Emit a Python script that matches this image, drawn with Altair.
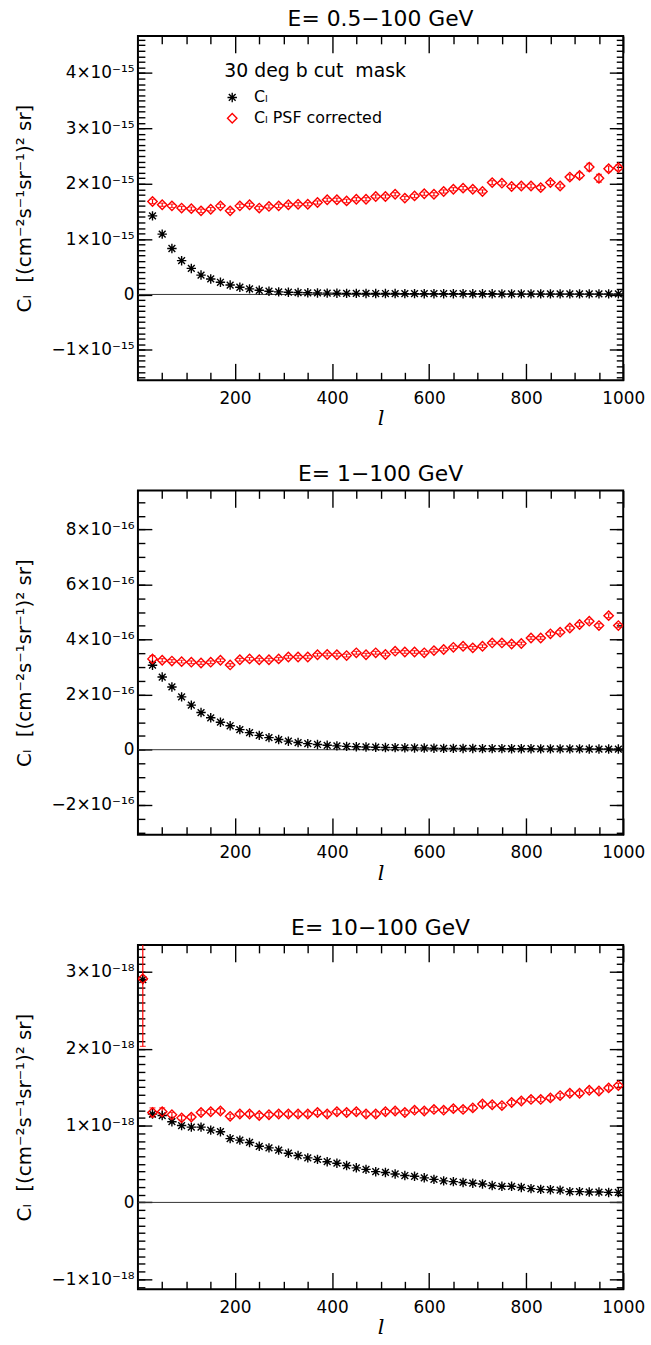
import altair as alt
import pandas as pd

# multipole bin centres
ELL = [30, 50, 70, 90, 110, 130, 150, 170, 190, 210, 230, 250, 270, 290, 310, 330,
       350, 370, 390, 410, 430, 450, 470, 490, 510, 530, 550, 570, 590, 610, 630,
       650, 670, 690, 710, 730, 750, 770, 790, 810, 830, 850, 870, 890, 910, 930,
       950, 970, 990]
ELL3 = [10] + ELL

SERIES = ["Cₗ", "Cₗ PSF corrected"]

# ---- panel 1: E = 0.5-100 GeV (units of 1e-15)
CL_1 = [1.42, 1.09, 0.83, 0.61, 0.47, 0.35, 0.28, 0.22, 0.17, 0.13,
        0.10, 0.075, 0.058, 0.047, 0.04, 0.034, 0.03, 0.027, 0.024, 0.022,
        0.02, 0.019, 0.018, 0.017, 0.017, 0.016, 0.015, 0.015, 0.014, 0.014,
        0.013, 0.013, 0.013, 0.012, 0.012, 0.012, 0.011, 0.011, 0.011, 0.011,
        0.010, 0.010, 0.010, 0.010, 0.010, 0.010, 0.010, 0.010, 0.010]
PSF_1 = [1.68, 1.62, 1.60, 1.56, 1.55, 1.51, 1.54, 1.60, 1.51, 1.60,
         1.62, 1.56, 1.59, 1.60, 1.62, 1.63, 1.63, 1.66, 1.71, 1.71,
         1.69, 1.72, 1.72, 1.77, 1.77, 1.81, 1.74, 1.78, 1.82, 1.81,
         1.86, 1.90, 1.92, 1.90, 1.86, 2.02, 2.01, 1.95, 1.96, 1.96,
         1.93, 2.02, 1.96, 2.12, 2.15, 2.30, 2.10, 2.27, 2.29]
ERR_1 = [0.04, 0.03, 0.03, 0.03, 0.03, 0.03, 0.03, 0.03, 0.03, 0.03,
         0.03, 0.03, 0.03, 0.03, 0.03, 0.03, 0.03, 0.03, 0.03, 0.03,
         0.03, 0.03, 0.03, 0.03, 0.03, 0.03, 0.03, 0.03, 0.03, 0.03,
         0.03, 0.03, 0.03, 0.03, 0.03, 0.035, 0.035, 0.035, 0.035, 0.035,
         0.035, 0.035, 0.035, 0.045, 0.05, 0.07, 0.07, 0.05, 0.05]

# ---- panel 2: E = 1-100 GeV (units of 1e-16)
CL_2 = [3.07, 2.64, 2.28, 1.92, 1.62, 1.35, 1.16, 1.00, 0.87, 0.73,
        0.62, 0.52, 0.44, 0.37, 0.31, 0.26, 0.22, 0.19, 0.16, 0.14,
        0.12, 0.11, 0.10, 0.09, 0.08, 0.075, 0.07, 0.065, 0.06, 0.055,
        0.05, 0.05, 0.045, 0.045, 0.04, 0.04, 0.04, 0.035, 0.035, 0.035,
        0.03, 0.03, 0.03, 0.03, 0.03, 0.025, 0.025, 0.025, 0.025]
PSF_2 = [3.30, 3.25, 3.22, 3.20, 3.18, 3.15, 3.18, 3.25, 3.08, 3.27,
         3.30, 3.27, 3.27, 3.30, 3.37, 3.37, 3.37, 3.45, 3.46, 3.45,
         3.42, 3.52, 3.45, 3.52, 3.46, 3.58, 3.55, 3.55, 3.52, 3.60,
         3.64, 3.72, 3.76, 3.70, 3.76, 3.88, 3.88, 3.84, 3.86, 4.06,
         4.06, 4.21, 4.27, 4.42, 4.55, 4.67, 4.51, 4.87, 4.51]
ERR_2 = [0.12, 0.06, 0.05, 0.05, 0.05, 0.05, 0.05, 0.05, 0.05, 0.05,
         0.05, 0.05, 0.05, 0.05, 0.05, 0.05, 0.05, 0.05, 0.05, 0.05,
         0.05, 0.05, 0.05, 0.05, 0.05, 0.05, 0.05, 0.05, 0.05, 0.05,
         0.05, 0.05, 0.05, 0.05, 0.05, 0.05, 0.05, 0.05, 0.05, 0.05,
         0.05, 0.07, 0.07, 0.07, 0.07, 0.07, 0.07, 0.07, 0.07]

# ---- panel 3: E = 10-100 GeV (units of 1e-18), includes l = 10
CL_3 = [2.90, 1.15, 1.13, 1.05, 1.00, 0.98, 0.98, 0.94, 0.92, 0.83, 0.81,
        0.78, 0.73, 0.71, 0.68, 0.64, 0.61, 0.58, 0.56, 0.53, 0.51,
        0.48, 0.45, 0.43, 0.40, 0.39, 0.37, 0.35, 0.34, 0.32, 0.30,
        0.28, 0.27, 0.26, 0.25, 0.24, 0.22, 0.21, 0.21, 0.195, 0.18,
        0.17, 0.165, 0.16, 0.14, 0.14, 0.135, 0.135, 0.13, 0.13]
PSF_3 = [2.91, 1.17, 1.18, 1.14, 1.10, 1.11, 1.17, 1.18, 1.19, 1.12, 1.15,
         1.15, 1.13, 1.14, 1.15, 1.15, 1.15, 1.15, 1.17, 1.15, 1.18,
         1.17, 1.18, 1.15, 1.15, 1.18, 1.19, 1.17, 1.20, 1.19, 1.21,
         1.20, 1.22, 1.21, 1.23, 1.28, 1.27, 1.26, 1.30, 1.32, 1.34,
         1.34, 1.36, 1.39, 1.42, 1.42, 1.46, 1.45, 1.49, 1.52]
ERR_3 = [0.88, 0.06, 0.05, 0.03, 0.03, 0.03, 0.03, 0.03, 0.03, 0.03, 0.03,
         0.03, 0.03, 0.03, 0.03, 0.03, 0.03, 0.03, 0.03, 0.03, 0.03,
         0.03, 0.03, 0.03, 0.03, 0.03, 0.03, 0.03, 0.03, 0.03, 0.03,
         0.03, 0.03, 0.03, 0.03, 0.03, 0.03, 0.03, 0.03, 0.03, 0.03,
         0.03, 0.03, 0.03, 0.03, 0.03, 0.03, 0.03, 0.03, 0.03]

X_MAJOR = [200, 400, 600, 800, 1000]
X_MINOR = [50, 100, 150, 250, 300, 350, 450, 500, 550, 650, 700, 750, 850, 900, 950]

Y1_MAJOR = [-1, 0, 1, 2, 3, 4]
Y1_MINOR = [round(-1.5 + 0.1 * i, 1) for i in range(62)]
Y2_MAJOR = [-2, 0, 2, 4, 6, 8]
Y2_MINOR = [round(-3 + 0.5 * i, 1) for i in range(25)]
Y3_MAJOR = [-1, 0, 1, 2, 3]
Y3_MINOR = [round(-1.1 + 0.1 * i, 1) for i in range(45)]

STAR = "M-1,0L1,0M0,-1L0,1M-0.72,-0.72L0.72,0.72M-0.72,0.72L0.72,-0.72"
YTITLE = "Cₗ\u00a0\u00a0[(cm⁻²s⁻¹sr⁻¹)² sr]"
LEGTITLE = "30 deg b cut\u00a0\u00a0mask"
FONT = "DejaVu Sans"


def ax(orient, values, size, **kw):
    return alt.Axis(orient=orient, values=values, tickSize=size, offset=-size,
                    domain=False, grid=False, ticks=True, tickColor="black",
                    tickWidth=1.4, **kw)


def panel(ells, cl, psf, err, title, ydom, ymaj, ymin, sup):
    n = len(ells)
    pts = pd.DataFrame({"l": ells + ells, "v": cl + psf,
                        "s": [SERIES[0]] * n + [SERIES[1]] * n})
    bars = pd.DataFrame({"l": ells,
                         "lo": [p - e for p, e in zip(psf, err)],
                         "hi": [p + e for p, e in zip(psf, err)]})
    xs = alt.Scale(domain=[0, 1000], nice=False, zero=False)
    ys = alt.Scale(domain=ydom, nice=False, zero=False)
    lab = ("datum.value == 0 ? '0' : (datum.value < 0 ? '\u2212' : '') + "
           "format(abs(datum.value), 'd') + '×10" + sup + "'")
    leg = alt.Legend(orient="none", legendX=87, legendY=26, title=LEGTITLE,
                     titleFontSize=19, titleFontWeight="normal", titleFont=FONT,
                     titleColor="black", titlePadding=9, titleLimit=400,
                     labelFontSize=16, labelLimit=400,
                     labelFont=FONT, labelColor="black", labelOffset=14,
                     rowPadding=5, symbolSize=90, symbolStrokeWidth=1.4, padding=0)

    zero = alt.Chart(pd.DataFrame({"z": [0]})).mark_rule(
        color="#333333", strokeWidth=1).encode(
        y=alt.Y("z:Q", scale=ys, axis=None))

    rules = alt.Chart(bars).mark_rule(color="red", strokeWidth=1.2, clip=True).encode(
        x=alt.X("l:Q", scale=xs, axis=ax("top", X_MAJOR, 17, labels=False, title=None)),
        y=alt.Y("lo:Q", scale=ys, axis=ax("right", ymaj, 14, labels=False, title=None)),
        y2="hi:Q")
    cap_lo = alt.Chart(bars).mark_tick(color="red", orient="horizontal", size=6,
                                       thickness=1.2, clip=True).encode(
        x=alt.X("l:Q", scale=xs, axis=ax("bottom", X_MINOR, 8, labels=False, title=None)),
        y=alt.Y("lo:Q", scale=ys, axis=ax("left", ymin, 7, labels=False, title=None)))
    cap_hi = alt.Chart(bars).mark_tick(color="red", orient="horizontal", size=6,
                                       thickness=1.2, clip=True).encode(
        x=alt.X("l:Q", scale=xs, axis=ax("top", X_MINOR, 8, labels=False, title=None)),
        y=alt.Y("hi:Q", scale=ys, axis=ax("right", ymin, 7, labels=False, title=None)))
    points = alt.Chart(pts).mark_point(filled=False, size=90, strokeWidth=1.4,
                                       clip=True, opacity=1).encode(
        x=alt.X("l:Q", scale=xs,
                axis=ax("bottom", X_MAJOR, 17, labels=True, format="d",
                        labelFlush=False, labelOverlap=False,
                        labelFontSize=17, labelFont=FONT, labelColor="black",
                        labelPadding=10, title="l", titleFontSize=21,
                        titleFont="DejaVu Serif", titleFontStyle="italic",
                        titleFontWeight="normal", titleColor="black", titlePadding=2)),
        y=alt.Y("v:Q", scale=ys,
                axis=ax("left", ymaj, 14, labels=True, labelExpr=lab,
                        labelFlush=False, labelOverlap=False,
                        labelFontSize=17, labelFont=FONT, labelColor="black",
                        labelPadding=4, title=YTITLE, titleFontSize=20,
                        titleFont=FONT, titleFontWeight="normal", titleColor="black",
                        titlePadding=17, titleLimit=400)),
        color=alt.Color("s:N", scale=alt.Scale(domain=SERIES, range=["black", "red"]),
                        legend=leg),
        shape=alt.Shape("s:N", scale=alt.Scale(domain=SERIES, range=[STAR, "diamond"]),
                        legend=leg))

    return alt.layer(zero, rules, cap_lo, cap_hi, points).resolve_axis(
        x="independent", y="independent").properties(
        width=489, height=347,
        title=alt.TitleParams(title, fontSize=22, fontWeight="normal", font=FONT,
                              color="black", anchor="middle", offset=4))


p1 = panel(ELL, CL_1, PSF_1, ERR_1, "E= 0.5\u2212100 GeV", [-1.55, 4.67],
           Y1_MAJOR, Y1_MINOR, "⁻¹⁵")
p2 = panel(ELL, CL_2, PSF_2, ERR_2, "E= 1\u2212100 GeV", [-3.09, 9.42],
           Y2_MAJOR, Y2_MINOR, "⁻¹⁶")
p3 = panel(ELL3, CL_3, PSF_3, ERR_3, "E= 10\u2212100 GeV", [-1.13, 3.35],
           Y3_MAJOR, Y3_MINOR, "⁻¹⁸")

chart = (alt.vconcat(p1, p2, p3, spacing=32)
         .properties(padding={"left": 13, "top": 2, "right": 5, "bottom": 5})
         .configure(font=FONT)
         .configure_view(stroke="black", strokeWidth=2))

chart.save("out.html", embed_options={"renderer": "svg", "actions": False})
